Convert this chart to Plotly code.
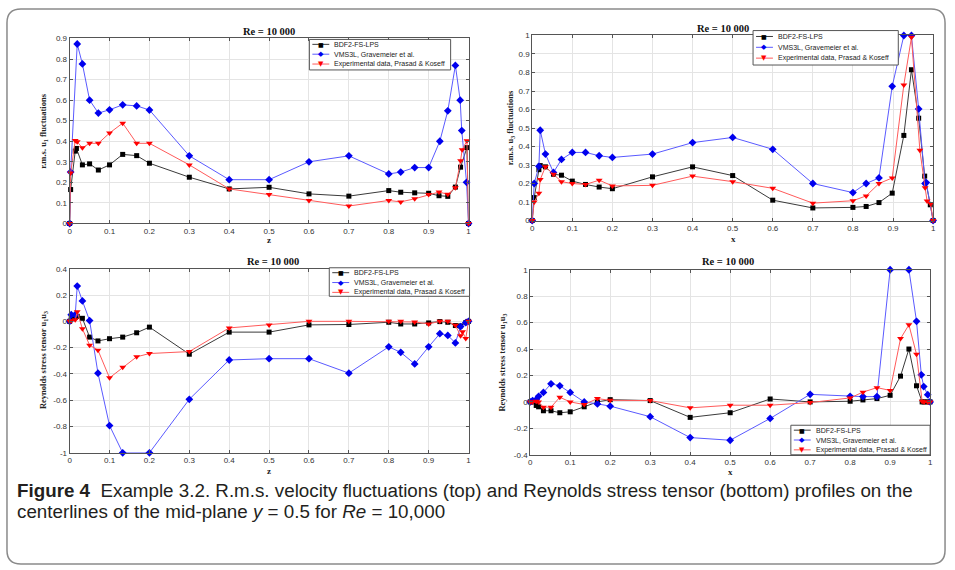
import plotly.graph_objects as go

# ---------------- data ----------------
# Panel 1: r.m.s. u1 fluctuations vs z
Z1_BDF = [0, 0.0025, 0.014, 0.017, 0.032, 0.05, 0.072, 0.1, 0.133, 0.168, 0.2, 0.3, 0.4, 0.5, 0.6, 0.7, 0.8, 0.83, 0.865, 0.9, 0.926, 0.948, 0.967, 0.98, 0.996, 1]
U1_BDF = [0, 0.165, 0.352, 0.365, 0.285, 0.29, 0.26, 0.285, 0.336, 0.33, 0.293, 0.225, 0.168, 0.176, 0.144, 0.133, 0.16, 0.152, 0.149, 0.147, 0.135, 0.132, 0.177, 0.274, 0.369, 0]
Z1_VMS = [0, 0.0025, 0.019, 0.032, 0.05, 0.072, 0.1, 0.133, 0.168, 0.2, 0.3, 0.4, 0.5, 0.6, 0.7, 0.8, 0.83, 0.865, 0.9, 0.928, 0.948, 0.967, 0.979, 0.983, 0.995, 1]
U1_VMS = [0, 0.25, 0.873, 0.776, 0.6, 0.537, 0.553, 0.577, 0.572, 0.552, 0.329, 0.213, 0.213, 0.3, 0.329, 0.241, 0.25, 0.272, 0.272, 0.4, 0.548, 0.769, 0.6, 0.452, 0.2, 0]
Z1_EXP = [0, 0.0025, 0.014, 0.019, 0.032, 0.05, 0.072, 0.1, 0.133, 0.168, 0.2, 0.3, 0.4, 0.5, 0.6, 0.7, 0.8, 0.83, 0.865, 0.9, 0.926, 0.948, 0.967, 0.98, 0.984, 0.996, 1]
U1_EXP = [0, 0.245, 0.404, 0.397, 0.368, 0.39, 0.39, 0.44, 0.488, 0.39, 0.39, 0.285, 0.168, 0.141, 0.112, 0.085, 0.112, 0.105, 0.12, 0.141, 0.153, 0.142, 0.174, 0.305, 0.359, 0.402, 0]

# Panel 2: r.m.s. u3 fluctuations vs x
X2_BDF = [0, 0.005, 0.0167, 0.02, 0.033, 0.053, 0.073, 0.1, 0.133, 0.167, 0.2, 0.3, 0.4, 0.5, 0.6, 0.7, 0.8, 0.833, 0.865, 0.898, 0.927, 0.946, 0.964, 0.979, 0.993, 1]
U3_BDF = [0, 0.124, 0.275, 0.297, 0.29, 0.25, 0.245, 0.213, 0.195, 0.181, 0.172, 0.236, 0.29, 0.243, 0.11, 0.068, 0.071, 0.076, 0.097, 0.148, 0.46, 0.815, 0.553, 0.24, 0.085, 0]
X2_VMS = [0, 0.005, 0.0167, 0.02, 0.033, 0.053, 0.073, 0.1, 0.133, 0.167, 0.2, 0.3, 0.4, 0.5, 0.6, 0.7, 0.8, 0.833, 0.865, 0.898, 0.927, 0.946, 0.964, 0.98, 0.983, 1]
U3_VMS = [0, 0.2, 0.293, 0.488, 0.359, 0.26, 0.33, 0.368, 0.368, 0.35, 0.341, 0.359, 0.421, 0.449, 0.385, 0.2, 0.151, 0.2, 0.23, 0.725, 1.0, 1.0, 0.603, 0.2, 0.205, 0]
X2_EXP = [0, 0.005, 0.0167, 0.02, 0.033, 0.053, 0.073, 0.1, 0.133, 0.167, 0.2, 0.3, 0.4, 0.5, 0.6, 0.7, 0.8, 0.833, 0.865, 0.898, 0.927, 0.946, 0.967, 0.98, 0.985, 0.994, 1]
U3_EXP = [0, 0.1, 0.148, 0.222, 0.29, 0.25, 0.21, 0.2, 0.195, 0.218, 0.187, 0.19, 0.24, 0.21, 0.174, 0.094, 0.107, 0.133, 0.2, 0.23, 0.733, 0.99, 0.38, 0.177, 0.106, 0.09, 0]

# Panel 3: Reynolds stress tensor u1u3 vs z
Z3_BDF = [0, 0.004, 0.014, 0.019, 0.032, 0.05, 0.071, 0.1, 0.133, 0.168, 0.2, 0.3, 0.4, 0.5, 0.6, 0.7, 0.8, 0.83, 0.865, 0.9, 0.928, 0.948, 0.967, 0.98, 0.993, 1]
S3_BDF = [0, 0.02, 0.03, 0.038, 0.023, -0.12, -0.149, -0.132, -0.12, -0.087, -0.044, -0.25, -0.082, -0.082, -0.027, -0.024, -0.007, -0.02, -0.02, -0.012, -0.002, -0.007, -0.032, -0.035, -0.01, 0]
Z3_VMS = [0, 0.004, 0.014, 0.019, 0.032, 0.05, 0.071, 0.1, 0.133, 0.2, 0.3, 0.4, 0.5, 0.6, 0.7, 0.8, 0.83, 0.865, 0.9, 0.928, 0.948, 0.967, 0.98, 0.993, 1]
S3_VMS = [0, 0.05, 0.05, 0.268, 0.155, 0.006, -0.394, -0.793, -1.0, -1.0, -0.593, -0.294, -0.284, -0.284, -0.394, -0.194, -0.236, -0.324, -0.194, -0.094, -0.107, -0.164, -0.04, -0.01, 0]
Z3_EXP = [0, 0.004, 0.014, 0.019, 0.032, 0.05, 0.071, 0.1, 0.133, 0.168, 0.2, 0.3, 0.4, 0.5, 0.6, 0.7, 0.8, 0.83, 0.865, 0.9, 0.928, 0.948, 0.967, 0.98, 0.985, 0.993, 1]
S3_EXP = [0, 0.005, 0.012, 0.073, -0.057, -0.181, -0.219, -0.43, -0.349, -0.27, -0.245, -0.23, -0.05, -0.027, 0, 0, 0, 0, -0.005, -0.02, 0, 0, -0.03, -0.11, -0.08, -0.13, 0]

# Panel 4: Reynolds stress tensor u1u3 vs x
X4_BDF = [0, 0.006, 0.015, 0.021, 0.033, 0.052, 0.074, 0.1, 0.135, 0.168, 0.2, 0.3, 0.4, 0.5, 0.6, 0.7, 0.8, 0.832, 0.867, 0.9, 0.926, 0.947, 0.966, 0.98, 0.985, 0.994, 1]
S4_BDF = [0, 0.0, -0.027, -0.037, -0.067, -0.067, -0.082, -0.075, -0.037, 0.0, 0.017, 0.01, -0.117, -0.082, 0.022, 0.0, 0.005, 0.015, 0.025, 0.05, 0.195, 0.4, 0.122, 0.0, 0.0, 0.0, 0]
X4_VMS = [0, 0.006, 0.015, 0.021, 0.033, 0.052, 0.074, 0.1, 0.135, 0.168, 0.2, 0.3, 0.4, 0.5, 0.6, 0.7, 0.8, 0.832, 0.867, 0.9, 0.947, 0.966, 0.978, 0.984, 0.994, 1]
S4_VMS = [0, 0.01, 0.017, 0.042, 0.072, 0.137, 0.122, 0.072, 0.0, -0.015, -0.032, -0.112, -0.27, -0.29, -0.125, 0.057, 0.042, 0.04, 0.04, 1.0, 1.0, 0.61, 0.205, 0.116, 0.055, 0]
X4_EXP = [0, 0.006, 0.015, 0.021, 0.033, 0.052, 0.074, 0.1, 0.135, 0.168, 0.2, 0.3, 0.4, 0.5, 0.6, 0.7, 0.8, 0.832, 0.867, 0.9, 0.926, 0.947, 0.966, 0.98, 0.985, 0.994, 1]
S4_EXP = [0, 0, 0.005, 0, -0.04, -0.04, 0.035, 0, -0.02, 0.025, 0.012, 0.01, -0.045, -0.025, -0.025, -0.005, 0.03, 0.074, 0.108, 0.087, 0.479, 0.583, 0.36, 0.005, 0, 0, 0]

SERIES_NAMES = ["BDF2-FS-LPS", "VMS3L, Gravemeier et al.", "Experimental data, Prasad & Koseff"]
PANEL_TITLE = "Re = 10 000"
X_LABELS = ["z", "x", "z", "x"]
Y_LABELS = ["r.m.s. u<sub>1</sub> fluctuations", "r.m.s. u<sub>3</sub> fluctuations",
            "Reynolds stress tensor u<sub>1</sub>u<sub>3</sub>", "Reynolds stress tensor u<sub>1</sub>u<sub>3</sub>"]
Y_RANGES = [(0, 0.9), (0, 1), (-1, 0.4), (-0.4, 1)]
Y_TICKS = [[i / 10 for i in range(10)], [i / 10 for i in range(11)],
           [-1, -0.8, -0.6, -0.4, -0.2, 0, 0.2, 0.4], [-0.4, -0.2, 0, 0.2, 0.4, 0.6, 0.8, 1]]
X_TICKS = [i / 10 for i in range(11)]

# ---------------- styling / layout ----------------
W, H = 955, 570
def px(x): return x / W
def py(y): return 1 - y / H

COL_LINE = ["#3a3a3a", "#5a5aff", "#ff5a5a"]
COL_MARK = ["#000000", "#0000ee", "#ff0000"]
SYMBOLS = ["square", "diamond", "triangle-down"]
MSIZE = [5, 6, 6]
UNI = ["■", "◆", "▼"]

AREAS = [(68, 469, 35, 223), (533, 936, 32, 220), (68, 469, 269, 456), (531, 933, 270, 458)]
TITLE_POS = [(268, 28), (725, 25), (272, 262), (730, 262)]
XLAB_POS = [(268, 240), (735, 239), (268, 474), (732, 475)]
YLAB_POS = [(42, 129), (511, 126), (42, 362), (503, 364)]
LEG = [((309, 451, 36, 67), [41, 51, 61]),
       ((755, 901, 27, 62), [33, 44, 55]),
       ((329, 470, 268, 297), [273, 283, 293]),
       ((793, 933, 428, 458), [433, 443, 453])]

data = [
    [(Z1_BDF, U1_BDF), (Z1_VMS, U1_VMS), (Z1_EXP, U1_EXP)],
    [(X2_BDF, U3_BDF), (X2_VMS, U3_VMS), (X2_EXP, U3_EXP)],
    [(Z3_BDF, S3_BDF), (Z3_VMS, S3_VMS), (Z3_EXP, S3_EXP)],
    [(X4_BDF, S4_BDF), (X4_VMS, S4_VMS), (X4_EXP, S4_EXP)],
]

fig = go.Figure()
layout = dict(width=W, height=H, margin=dict(l=0, r=0, t=0, b=0),
              paper_bgcolor="white", plot_bgcolor="white", showlegend=False)

TICKFONT = dict(family="Liberation Sans, Arial, sans-serif", size=8, color="#333")
SERIF = "Liberation Serif, Times New Roman, serif"

def fmt(v):
    return "%g" % v

annotations = []
shapes = []
for p in range(4):
    l, r, t, b = AREAS[p]
    xa = "xaxis" if p == 0 else "xaxis%d" % (p + 1)
    ya = "yaxis" if p == 0 else "yaxis%d" % (p + 1)
    xref = "x" if p == 0 else "x%d" % (p + 1)
    yref = "y" if p == 0 else "y%d" % (p + 1)
    layout[xa] = dict(domain=[px(l), px(r)], anchor=yref, range=[0, 1],
                      tickvals=X_TICKS, ticktext=[fmt(v) for v in X_TICKS],
                      showline=True, mirror="ticks", linecolor="#555", linewidth=1,
                      ticks="inside", ticklen=3, tickcolor="#555",
                      showgrid=True, gridcolor="#e4e4e4", gridwidth=1, zeroline=False,
                      tickfont=TICKFONT, fixedrange=True)
    y0, y1 = Y_RANGES[p]
    layout[ya] = dict(domain=[py(b), py(t)], anchor=xref, range=[y0, y1],
                      tickvals=Y_TICKS[p], ticktext=[fmt(v) for v in Y_TICKS[p]],
                      showline=True, mirror="ticks", linecolor="#555", linewidth=1,
                      ticks="inside", ticklen=3, tickcolor="#555",
                      showgrid=True, gridcolor="#e4e4e4", gridwidth=1, zeroline=False,
                      tickfont=TICKFONT, fixedrange=True)
    for s in range(3):
        xs, ys = data[p][s]
        fig.add_trace(go.Scatter(x=xs, y=ys, mode="lines+markers", name=SERIES_NAMES[s],
                                 xaxis=xref, yaxis=yref, cliponaxis=False,
                                 line=dict(color=COL_LINE[s], width=1),
                                 marker=dict(symbol=SYMBOLS[s], size=MSIZE[s], color=COL_MARK[s],
                                             line=dict(width=0))))
    tx, ty = TITLE_POS[p]
    annotations.append(dict(text="<b>" + PANEL_TITLE + "</b>", x=px(tx), y=py(ty), xref="paper", yref="paper",
                            showarrow=False, xanchor="center", yanchor="middle",
                            font=dict(family=SERIF, size=10.5, color="#111")))
    lx, ly = XLAB_POS[p]
    annotations.append(dict(text="<b>" + X_LABELS[p] + "</b>", x=px(lx), y=py(ly), xref="paper", yref="paper",
                            showarrow=False, xanchor="center", yanchor="middle",
                            font=dict(family=SERIF, size=9, color="#222")))
    yx, yy = YLAB_POS[p]
    annotations.append(dict(text="<b>" + Y_LABELS[p] + "</b>", x=px(yx), y=py(yy), xref="paper", yref="paper",
                            showarrow=False, xanchor="center", yanchor="middle", textangle=-90,
                            font=dict(family=SERIF, size=8.5, color="#222")))
    (bl, br, bt, bb), rows = LEG[p]
    shapes.append(dict(type="rect", xref="paper", yref="paper", x0=px(bl), x1=px(br), y0=py(bb), y1=py(bt),
                       line=dict(color="#555", width=1), fillcolor="white", layer="above"))
    for s in range(3):
        ry = rows[s]
        shapes.append(dict(type="line", xref="paper", yref="paper", x0=px(bl + 3), x1=px(bl + 20),
                           y0=py(ry), y1=py(ry), line=dict(color=COL_LINE[s], width=1), layer="above"))
        annotations.append(dict(text=UNI[s], x=px(bl + 11.5), y=py(ry), xref="paper", yref="paper",
                                showarrow=False, xanchor="center", yanchor="middle",
                                font=dict(family="DejaVu Sans", size=6 if s == 0 else 7, color=COL_MARK[s])))
        annotations.append(dict(text=SERIES_NAMES[s], x=px(bl + 23), y=py(ry), xref="paper", yref="paper",
                                showarrow=False, xanchor="left", yanchor="middle",
                                font=dict(family="Liberation Sans, Arial, sans-serif", size=7, color="#222")))

# caption
CAP1 = "<b>Figure 4</b>  Example 3.2. R.m.s. velocity fluctuations (top) and Reynolds stress tensor (bottom) profiles on the"
CAP2 = "centerlines of the mid-plane <i>y</i> = 0.5 for <i>Re</i> = 10,000"
CAPFONT = dict(family="Liberation Sans Narrow, Arial Narrow, Liberation Sans, sans-serif", size=18.8, color="#231f20")
annotations.append(dict(text=CAP1, x=px(13), y=py(494), xref="paper", yref="paper", showarrow=False,
                        xanchor="left", yanchor="middle", font=CAPFONT))
annotations.append(dict(text=CAP2, x=px(13), y=py(516), xref="paper", yref="paper", showarrow=False,
                        xanchor="left", yanchor="middle", font=CAPFONT))

# outer rounded frame
x0, x1, y0, y1, rr = 5, 948, 5, 569, 14
path = (f"M {x0+rr},{y0} L {x1-rr},{y0} Q {x1},{y0} {x1},{y0+rr} L {x1},{y1-rr} Q {x1},{y1} {x1-rr},{y1} "
        f"L {x0+rr},{y1} Q {x0},{y1} {x0},{y1-rr} L {x0},{y0+rr} Q {x0},{y0} {x0+rr},{y0} Z")
def conv(path):
    out = []
    for tok in path.split(" "):
        if "," in tok:
            a, b2 = tok.split(",")
            out.append(f"{px(float(a)):.5f},{py(float(b2)):.5f}")
        else:
            out.append(tok)
    return " ".join(out)
shapes.append(dict(type="path", xref="paper", yref="paper", path=conv(path),
                   line=dict(color="#8a8a8a", width=1.5), layer="below"))

layout["annotations"] = annotations
layout["shapes"] = shapes
fig.update_layout(**layout)
fig.write_html("out.html")
